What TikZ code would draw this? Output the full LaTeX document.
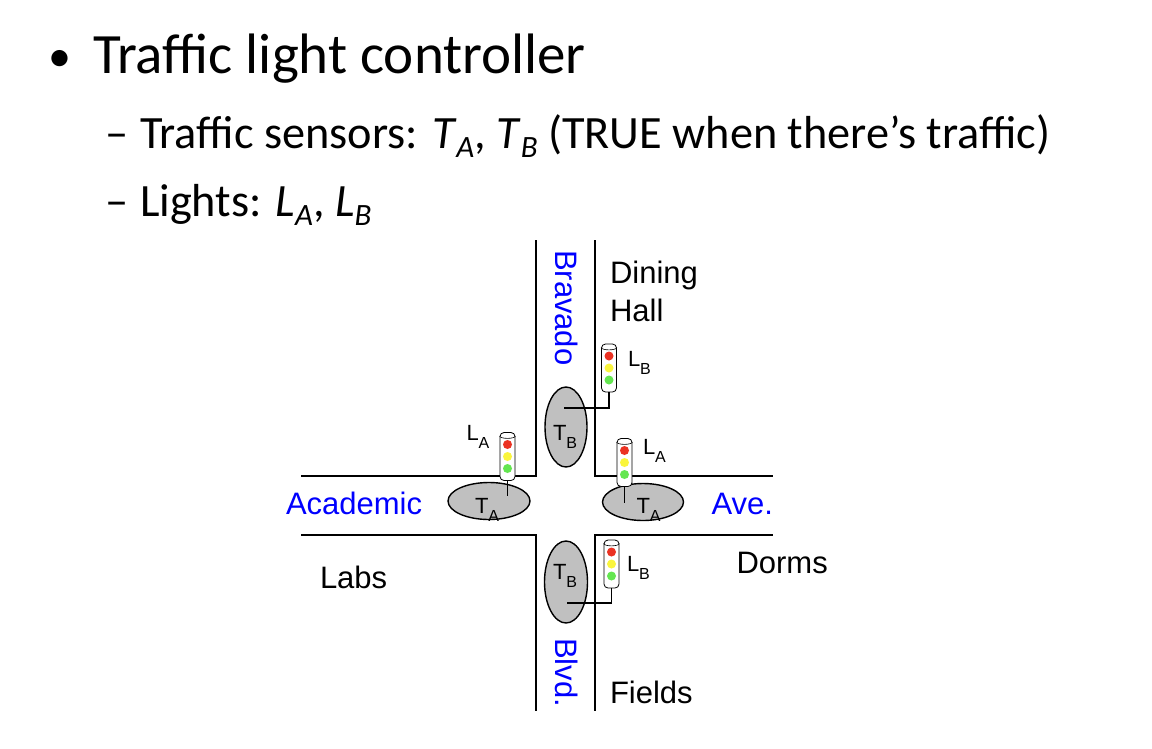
\documentclass[tikz,border=0pt]{standalone}
\usepackage{fontspec}
\setmainfont{Carlito}
\newfontfamily\arialf{Liberation Sans}
\usetikzlibrary{shapes.geometric,calc}
\definecolor{roadblue}{RGB}{0,0,255}
\definecolor{sensgray}{RGB}{192,192,192}
\definecolor{lred}{RGB}{235,50,35}
\definecolor{lyellow}{RGB}{250,245,60}
\definecolor{lgreen}{RGB}{100,230,80}
\newcommand\mainsz{\fontsize{57}{60}\selectfont}
\newcommand\bulsz{\fontsize{46}{50}\selectfont}
\newcommand\subsz{\fontsize{46.3}{50}\selectfont}
\newcommand\subsubsz{\fontsize{31}{34}\selectfont}
\newcommand\itsub[2]{\textit{#1}\raisebox{-0.2em}{\subsubsz\textit{#2}}}
\newcommand\lblsz{\fontsize{22}{24}\selectfont}
\newcommand\lblsub[2]{#1\raisebox{-8pt}{\fontsize{16}{18}\selectfont #2}}
\begin{document}
\begin{tikzpicture}[x=1pt,y=-1pt,
  txt/.style={anchor=base west,inner sep=0pt,outer sep=0pt},
  road/.style={line width=2.2pt,line cap=rect},
  sensor/.style={ellipse,draw=black,line width=1.4pt,fill=sensgray,inner sep=0pt},
  lightbox/.style={draw=black,fill=white,line width=0.8pt,rounded corners=4pt,minimum width=15pt,minimum height=48pt,inner sep=0pt},
  wire/.style={line width=1.4pt},
  dlabel/.style={txt,font=\arialf\fontsize{31}{34}\selectfont},
  slabel/.style={txt,font=\arialf\lblsz}
]
\useasboundingbox (0,0) rectangle (1152,748);
% text
\node[txt,font=\bulsz] (bul) at (48.5,71) {•};
\node[txt,font=\mainsz] (t1) at (93,73.5) {Traffic light controller};
\node[txt,font=\subsz] (d2) at (105,148) {–};
\node[txt,font=\subsz] (t2) at (140,148) {Traffic sensors: \itsub{T}{A}, \itsub{T}{B} (TRUE when there’s traffic)};
\node[txt,font=\subsz] (d3) at (105,216.5) {–};
\node[txt,font=\subsz] (t3) at (140,216.5) {Lights: \itsub{L}{A}, \itsub{L}{B}};
% roads
\coordinate (r1) at (536,241); \coordinate (r2) at (536,476); \coordinate (r3) at (302,476);
\coordinate (r4) at (595,241); \coordinate (r5) at (595,476); \coordinate (r6) at (772,476);
\coordinate (r7) at (302,535); \coordinate (r8) at (536,535); \coordinate (r9) at (536,710);
\coordinate (r10) at (772,535); \coordinate (r11) at (595,535); \coordinate (r12) at (595,710);
\draw[road] (r1) -- (r2) -- (r3);
\draw[road] (r4) -- (r5) -- (r6);
\draw[road] (r7) -- (r8) -- (r9);
\draw[road] (r10) -- (r11) -- (r12);
% sensors
\node[sensor,minimum width=42pt,minimum height=80pt] (tbN) at (566,427) {};
\node[sensor,minimum width=43pt,minimum height=82pt] (tbS) at (566,582) {};
\node[sensor,minimum width=82pt,minimum height=37pt] (taW) at (489,501) {};
\node[sensor,minimum width=81pt,minimum height=37pt] (taE) at (643,502) {};
% lights
\foreach \n/\x/\y in {lbN/609/368,lbS/611.5/564,laW/507.5/456.5,laE/624.5/462.5}{
  \node[lightbox] (\n) at (\x,\y) {};
  \draw[line width=0.6pt] ($(\n.north west)+(0,4)$) .. controls ($(\n.north west)+(1,7)$) and ($(\n.north east)+(-1,7)$) .. ($(\n.north east)+(0,4)$);
  \fill[lred] ($(\n.center)+(0,-12)$) circle (4.5pt);
  \fill[lyellow] ($(\n.center)+(0,0)$) circle (4.5pt);
  \fill[lgreen] ($(\n.center)+(0,12)$) circle (4.5pt);
}
% wires
\coordinate (wN) at ($(tbN.center)+(-2,-19)$);
\coordinate (wS) at ($(tbS.center)+(1,21)$);
\coordinate (wW) at (507.5,496);
\coordinate (wE) at (624.5,503);
\draw[wire] (wN) -| (lbN.south);
\draw[wire] (wS) -| (lbS.south);
\draw[wire] (laW.south) -- (wW);
\draw[wire] (laE.south) -- (wE);
% sensor labels
\node[slabel] (ltbN) at (553,440) {\lblsub{T}{B}};
\node[slabel] (ltbS) at (553,579.3) {\lblsub{T}{B}};
\node[slabel] (ltaW) at (475,513) {\lblsub{T}{A}};
\node[slabel] (ltaE) at (636.5,513) {\lblsub{T}{A}};
\node[slabel] (llbN) at (628,366.7) {\lblsub{L}{B}};
\node[slabel] (llbS) at (627,571.7) {\lblsub{L}{B}};
\node[slabel] (llaW) at (466.5,440) {\lblsub{L}{A}};
\node[slabel] (llaE) at (643,454) {\lblsub{L}{A}};
% street and place labels
\node[dlabel,text=roadblue,rotate=-90] (brav) at (555,250) {Bravado};
\node[dlabel,text=roadblue,rotate=-90] (blvd) at (555,638) {Blvd.};
\node[dlabel,text=roadblue] (acad) at (286,514) {Academic};
\node[dlabel,text=roadblue] (ave) at (711.5,514.3) {Ave.};
\node[dlabel] (din) at (610,283) {Dining};
\node[dlabel] (hall) at (610,321) {Hall};
\node[dlabel] (labs) at (320,588.3) {Labs};
\node[dlabel] (dorms) at (736.5,573.3) {Dorms};
\node[dlabel] (fields) at (610,703.3) {Fields};
\end{tikzpicture}
\end{document}
